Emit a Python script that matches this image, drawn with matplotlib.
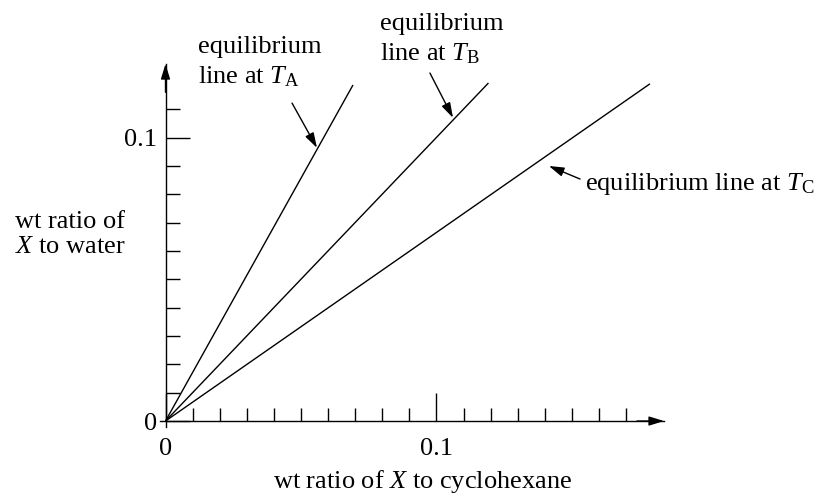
import matplotlib
matplotlib.use("Agg")
import matplotlib.pyplot as plt
import numpy as np

plt.rcParams["font.family"] = ["Liberation Serif", "DejaVu Serif"]
plt.rcParams["mathtext.fontset"] = "custom"
plt.rcParams["mathtext.rm"] = "Liberation Serif"
plt.rcParams["mathtext.it"] = "Liberation Serif:italic"

FONT_SIZE = 19

# equilibrium lines: start at origin, end points
LINE_NAMES = ["A", "B", "C"]
LINE_END_X = [0.0692, 0.1192, 0.1788]
LINE_END_Y = [0.1186, 0.1193, 0.1190]

# annotation arrows (tail -> tip), data coordinates
ARROW_TAIL = [(0.0467, 0.1122), (0.0976, 0.1228), (0.1530, 0.0854)]
ARROW_TIP = [(0.0559, 0.0964), (0.1061, 0.1070), (0.1415, 0.0900)]

X_MAJOR = [0.0, 0.1]
X_MAJOR_LABELS = ["0", "0.1"]
X_MINOR = [i / 100 for i in range(1, 18) if i != 10]
Y_MAJOR = [0.0, 0.1]
Y_MAJOR_LABELS = ["0", "0.1"]
Y_MINOR = [i / 100 for i in range(1, 12) if i != 10]

XLIM = (-0.002, 0.184)
YLIM = (-0.002, 0.126)

W, H = 822, 497


def fx(px):
    return px / W


def fy(py):
    return 1 - py / H


fig = plt.figure(figsize=(W / 100, H / 100), dpi=100)
ax = fig.add_axes([0.19475, 0.14145, 0.6131, 0.7298])
ax.set_xlim(*XLIM)
ax.set_ylim(*YLIM)
ax.patch.set_visible(False)

for side in ("top", "right"):
    ax.spines[side].set_visible(False)
ax.spines["left"].set_position(("data", 0))
ax.spines["bottom"].set_position(("data", 0))
for side in ("left", "bottom"):
    ax.spines[side].set_linewidth(1.0)

ax.set_xticks(X_MAJOR)
ax.set_xticklabels(X_MAJOR_LABELS)
ax.set_xticks(X_MINOR, minor=True)
ax.set_yticks(Y_MAJOR)
ax.set_yticklabels(Y_MAJOR_LABELS)
ax.set_yticks(Y_MINOR, minor=True)
ax.tick_params(axis="x", which="major", direction="in", length=20, width=1.0, pad=12, labelsize=FONT_SIZE)
ax.tick_params(axis="x", which="minor", direction="in", length=9.5, width=1.0)
ax.tick_params(axis="y", which="major", direction="in", length=17, width=1.0, pad=6, labelsize=FONT_SIZE)
ax.tick_params(axis="y", which="minor", direction="in", length=10, width=1.0)

# arrowheads on the axes
head = dict(arrowstyle="-|>,head_length=0.65,head_width=0.2", color="black", lw=1.0,
            mutation_scale=14, shrinkA=0, shrinkB=0)
ax.annotate("", xy=(XLIM[1], 0), xytext=(XLIM[1] - 0.01, 0), arrowprops=head, annotation_clip=False)
ax.annotate("", xy=(0, YLIM[1]), xytext=(0, YLIM[1] - 0.01), arrowprops=head, annotation_clip=False)

for x_end, y_end in zip(LINE_END_X, LINE_END_Y):
    ax.plot([0, x_end], [0, y_end], color="black", lw=1.0, solid_capstyle="butt")

for tail, tip in zip(ARROW_TAIL, ARROW_TIP):
    ax.annotate("", xy=tip, xytext=tail, arrowprops=head, annotation_clip=False)

# labels for the lines
fig.text(fx(198), fy(53), "equilibrium", fontsize=FONT_SIZE, va="baseline")
fig.text(fx(198), fy(83), r"line at $T_{\rm A}$", fontsize=FONT_SIZE, va="baseline")
fig.text(fx(380), fy(30), "equilibrium", fontsize=FONT_SIZE, va="baseline")
fig.text(fx(380), fy(60), r"line at $T_{\rm B}$", fontsize=FONT_SIZE, va="baseline")
fig.text(fx(585), fy(190), r"equilibrium line at $T_{\rm C}$", fontsize=FONT_SIZE, va="baseline")

# axis titles
fig.text(fx(15), fy(228), "wt ratio of", fontsize=FONT_SIZE, va="baseline")
fig.text(fx(15), fy(253), r"$X$ to water", fontsize=FONT_SIZE, va="baseline")
fig.text(fx(423), fy(488), r"wt ratio of $X$ to cyclohexane", fontsize=FONT_SIZE,
         va="baseline", ha="center")

fig.savefig("out.png", dpi=100)
